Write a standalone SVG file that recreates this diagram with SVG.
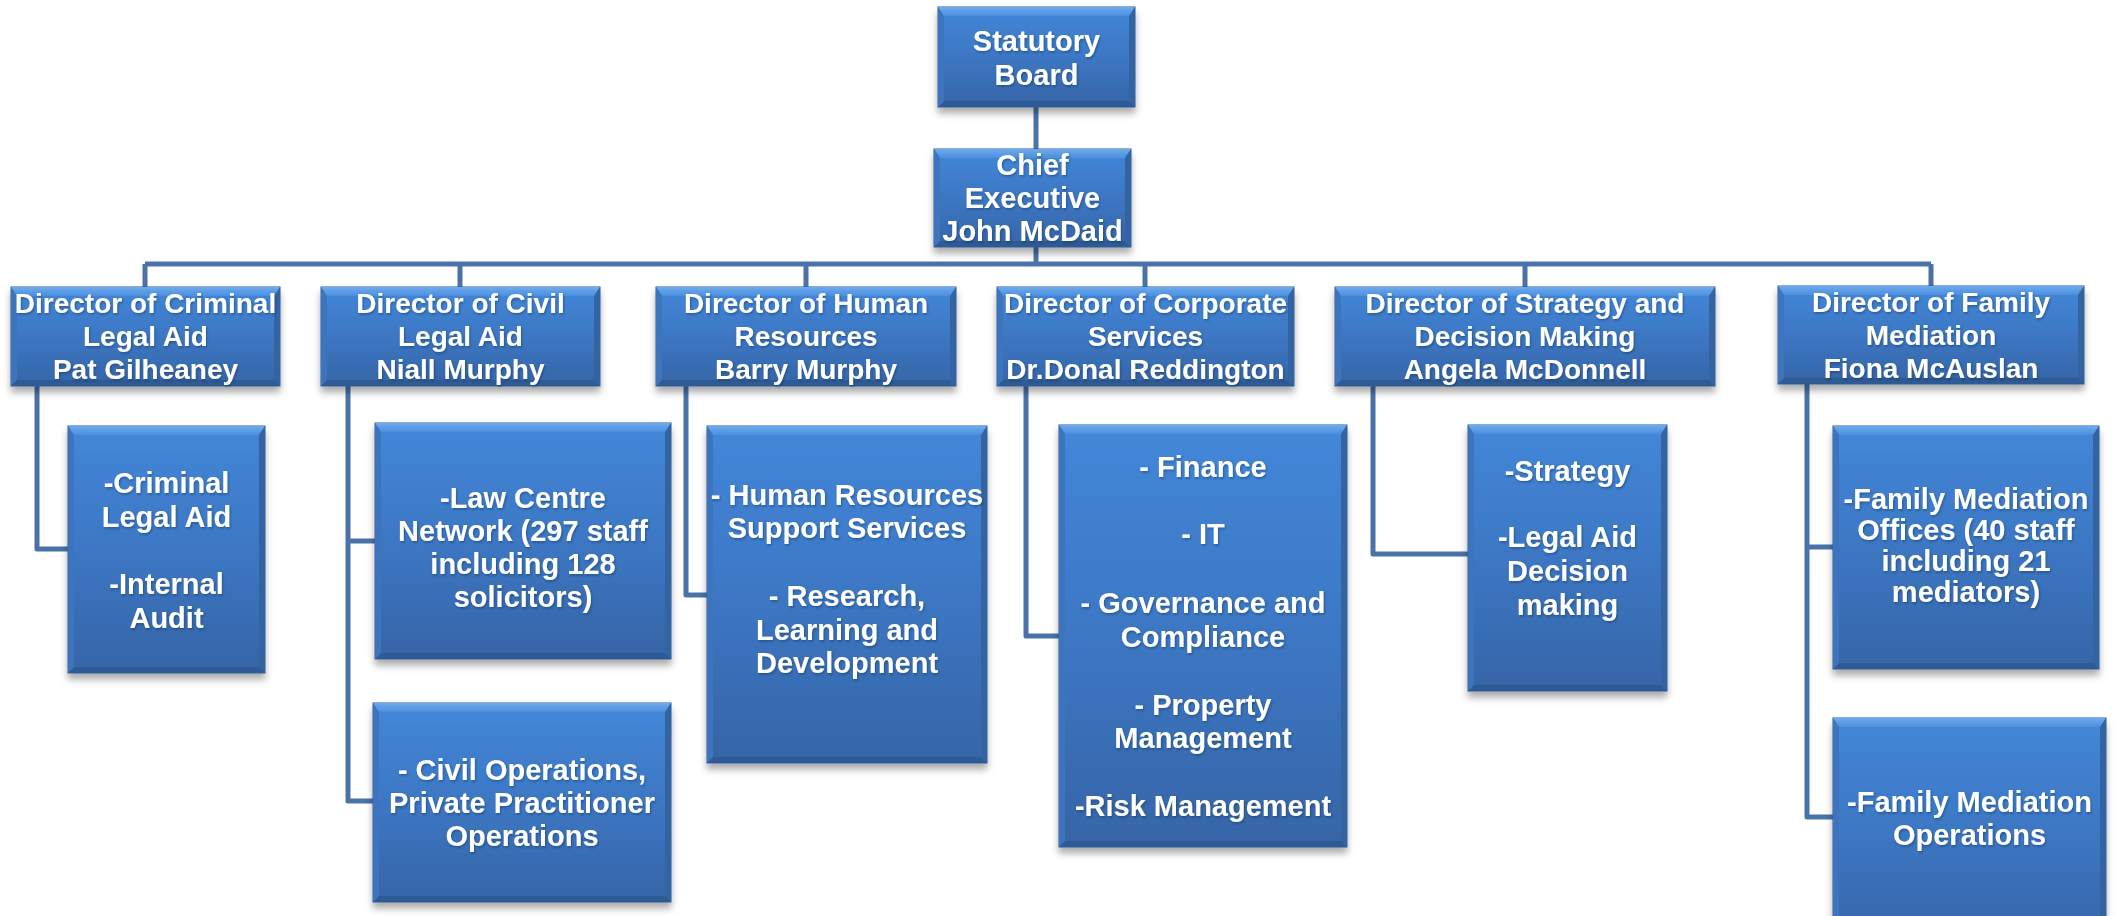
<svg xmlns="http://www.w3.org/2000/svg" width="2116" height="916" viewBox="0 0 2116 916">
<defs>
<linearGradient id="gMain" x1="0" y1="0" x2="0" y2="1">
<stop offset="0" stop-color="#4387d9"/>
<stop offset="0.5" stop-color="#3c77c3"/>
<stop offset="1" stop-color="#3665a7"/>
</linearGradient>
<linearGradient id="gTop" x1="0" y1="0" x2="0" y2="1">
<stop offset="0" stop-color="#6eaaee"/>
<stop offset="1" stop-color="#4b8fdd"/>
</linearGradient>
<filter id="sh" x="-10%" y="-10%" width="120%" height="130%">
<feDropShadow dx="0" dy="6" stdDeviation="3.5" flood-color="#000" flood-opacity="0.32"/>
</filter>
<filter id="tsh" x="-5%" y="-20%" width="110%" height="140%">
<feDropShadow dx="1" dy="1.5" stdDeviation="1" flood-color="#0a2040" flood-opacity="0.4"/>
</filter>
</defs>
<style>
.box{fill:url(#gMain);stroke:#2e5a95;stroke-width:1}
.bt{fill:url(#gTop)}
.bb{fill:#2e5a95}
.bl{fill:#3d74bd}
.br{fill:#3463a1}
.t{font-family:"Liberation Sans",Arial,Helvetica,sans-serif;font-weight:bold;font-size:29px;fill:#fff;text-anchor:middle;filter:url(#tsh)}
.d{font-size:28px}
.c{fill:none;stroke:#4a72a8;stroke-width:5;stroke-linejoin:round}
</style>
<rect width="2116" height="916" fill="#fff"/>
<g id="connectors" class="c">
<path d="M1036 107V149"/>
<path d="M1036 247V264"/>
<path d="M145 264H1931"/>
<path d="M145 264V287M460 264V287M806 264V287M1145 264V287M1525 264V287M1931 264V286"/>
<path d="M37 386V549H68"/>
<path d="M348 386V801H373M348 541H375"/>
<path d="M686 386V595H707"/>
<path d="M1026 386V636H1059"/>
<path d="M1373 386V554H1468"/>
<path d="M1807 384V817H1833M1807 547H1833"/>
</g>
<g id="statutory-board">
<g filter="url(#sh)"><rect class="box" x="938" y="7" width="197" height="100"/></g>
<polygon class="bt" points="938,7 1135,7 1129,16 944,16"/><polygon class="bb" points="938,107 1135,107 1129,101 944,101"/><polygon class="bl" points="938,7 944,16 944,101 938,107"/><polygon class="br" points="1135,7 1129,16 1129,101 1135,107"/>
<text class="t"><tspan x="1036.5" y="51">Statutory</tspan><tspan x="1036.5" y="85">Board</tspan></text>
</g>
<g id="chief-executive">
<g filter="url(#sh)"><rect class="box" x="934" y="149" width="197" height="98"/></g>
<polygon class="bt" points="934,149 1131,149 1125,158 940,158"/><polygon class="bb" points="934,247 1131,247 1125,241 940,241"/><polygon class="bl" points="934,149 940,158 940,241 934,247"/><polygon class="br" points="1131,149 1125,158 1125,241 1131,247"/>
<text class="t"><tspan x="1032.5" y="175">Chief</tspan><tspan x="1032.5" y="208">Executive</tspan><tspan x="1032.5" y="241">John McDaid</tspan></text>
</g>
<g id="dir-criminal">
<g filter="url(#sh)"><rect class="box" x="11" y="287" width="269" height="99"/></g>
<polygon class="bt" points="11,287 280,287 274,296 17,296"/><polygon class="bb" points="11,386 280,386 274,380 17,380"/><polygon class="bl" points="11,287 17,296 17,380 11,386"/><polygon class="br" points="280,287 274,296 274,380 280,386"/>
<text class="t d"><tspan x="145.5" y="313">Director of Criminal</tspan><tspan x="145.5" y="346">Legal Aid</tspan><tspan x="145.5" y="379">Pat Gilheaney</tspan></text>
</g>
<g id="dir-civil">
<g filter="url(#sh)"><rect class="box" x="321" y="287" width="279" height="99"/></g>
<polygon class="bt" points="321,287 600,287 594,296 327,296"/><polygon class="bb" points="321,386 600,386 594,380 327,380"/><polygon class="bl" points="321,287 327,296 327,380 321,386"/><polygon class="br" points="600,287 594,296 594,380 600,386"/>
<text class="t d"><tspan x="460.5" y="313">Director of Civil</tspan><tspan x="460.5" y="346">Legal Aid</tspan><tspan x="460.5" y="379">Niall Murphy</tspan></text>
</g>
<g id="dir-hr">
<g filter="url(#sh)"><rect class="box" x="656" y="287" width="300" height="99"/></g>
<polygon class="bt" points="656,287 956,287 950,296 662,296"/><polygon class="bb" points="656,386 956,386 950,380 662,380"/><polygon class="bl" points="656,287 662,296 662,380 656,386"/><polygon class="br" points="956,287 950,296 950,380 956,386"/>
<text class="t d"><tspan x="806" y="313">Director of Human</tspan><tspan x="806" y="346">Resources</tspan><tspan x="806" y="379">Barry Murphy</tspan></text>
</g>
<g id="dir-corporate">
<g filter="url(#sh)"><rect class="box" x="997" y="287" width="297" height="99"/></g>
<polygon class="bt" points="997,287 1294,287 1288,296 1003,296"/><polygon class="bb" points="997,386 1294,386 1288,380 1003,380"/><polygon class="bl" points="997,287 1003,296 1003,380 997,386"/><polygon class="br" points="1294,287 1288,296 1288,380 1294,386"/>
<text class="t d"><tspan x="1145.5" y="313">Director of Corporate</tspan><tspan x="1145.5" y="346">Services</tspan><tspan x="1145.5" y="379">Dr.Donal Reddington</tspan></text>
</g>
<g id="dir-strategy">
<g filter="url(#sh)"><rect class="box" x="1335" y="287" width="380" height="99"/></g>
<polygon class="bt" points="1335,287 1715,287 1709,296 1341,296"/><polygon class="bb" points="1335,386 1715,386 1709,380 1341,380"/><polygon class="bl" points="1335,287 1341,296 1341,380 1335,386"/><polygon class="br" points="1715,287 1709,296 1709,380 1715,386"/>
<text class="t d"><tspan x="1525" y="313">Director of Strategy and</tspan><tspan x="1525" y="346">Decision Making</tspan><tspan x="1525" y="379">Angela McDonnell</tspan></text>
</g>
<g id="dir-family">
<g filter="url(#sh)"><rect class="box" x="1778" y="286" width="306" height="98"/></g>
<polygon class="bt" points="1778,286 2084,286 2078,295 1784,295"/><polygon class="bb" points="1778,384 2084,384 2078,378 1784,378"/><polygon class="bl" points="1778,286 1784,295 1784,378 1778,384"/><polygon class="br" points="2084,286 2078,295 2078,378 2084,384"/>
<text class="t d"><tspan x="1931" y="312">Director of Family</tspan><tspan x="1931" y="345">Mediation</tspan><tspan x="1931" y="378">Fiona McAuslan</tspan></text>
</g>
<g id="unit-criminal">
<g filter="url(#sh)"><rect class="box" x="68" y="426" width="197" height="247"/></g>
<polygon class="bt" points="68,426 265,426 259,435 74,435"/><polygon class="bb" points="68,673 265,673 259,667 74,667"/><polygon class="bl" points="68,426 74,435 74,667 68,673"/><polygon class="br" points="265,426 259,435 259,667 265,673"/>
<text class="t"><tspan x="166.5" y="493">-Criminal</tspan><tspan x="166.5" y="527">Legal Aid</tspan><tspan x="166.5" y="594">-Internal</tspan><tspan x="166.5" y="628">Audit</tspan></text>
</g>
<g id="unit-law-centre">
<g filter="url(#sh)"><rect class="box" x="375" y="423" width="296" height="236"/></g>
<polygon class="bt" points="375,423 671,423 665,432 381,432"/><polygon class="bb" points="375,659 671,659 665,653 381,653"/><polygon class="bl" points="375,423 381,432 381,653 375,659"/><polygon class="br" points="671,423 665,432 665,653 671,659"/>
<text class="t"><tspan x="523" y="508">-Law Centre</tspan><tspan x="523" y="541">Network (297 staff</tspan><tspan x="523" y="574">including 128</tspan><tspan x="523" y="607">solicitors)</tspan></text>
</g>
<g id="unit-civil-ops">
<g filter="url(#sh)"><rect class="box" x="373" y="703" width="298" height="199"/></g>
<polygon class="bt" points="373,703 671,703 665,712 379,712"/><polygon class="bb" points="373,902 671,902 665,896 379,896"/><polygon class="bl" points="373,703 379,712 379,896 373,902"/><polygon class="br" points="671,703 665,712 665,896 671,902"/>
<text class="t"><tspan x="522" y="780">- Civil Operations,</tspan><tspan x="522" y="813">Private Practitioner</tspan><tspan x="522" y="846">Operations</tspan></text>
</g>
<g id="unit-hr">
<g filter="url(#sh)"><rect class="box" x="707" y="426" width="280" height="337"/></g>
<polygon class="bt" points="707,426 987,426 981,435 713,435"/><polygon class="bb" points="707,763 987,763 981,757 713,757"/><polygon class="bl" points="707,426 713,435 713,757 707,763"/><polygon class="br" points="987,426 981,435 981,757 987,763"/>
<text class="t"><tspan x="847" y="505">- Human Resources</tspan><tspan x="847" y="538">Support Services</tspan><tspan x="847" y="606">- Research,</tspan><tspan x="847" y="640">Learning and</tspan><tspan x="847" y="673">Development</tspan></text>
</g>
<g id="unit-corporate">
<g filter="url(#sh)"><rect class="box" x="1059" y="425" width="288" height="422"/></g>
<polygon class="bt" points="1059,425 1347,425 1341,434 1065,434"/><polygon class="bb" points="1059,847 1347,847 1341,841 1065,841"/><polygon class="bl" points="1059,425 1065,434 1065,841 1059,847"/><polygon class="br" points="1347,425 1341,434 1341,841 1347,847"/>
<text class="t"><tspan x="1203" y="477">- Finance</tspan><tspan x="1203" y="544">- IT</tspan><tspan x="1203" y="613">- Governance and</tspan><tspan x="1203" y="647">Compliance</tspan><tspan x="1203" y="715">- Property</tspan><tspan x="1203" y="748">Management</tspan><tspan x="1203" y="816">-Risk Management</tspan></text>
</g>
<g id="unit-strategy">
<g filter="url(#sh)"><rect class="box" x="1468" y="425" width="199" height="266"/></g>
<polygon class="bt" points="1468,425 1667,425 1661,434 1474,434"/><polygon class="bb" points="1468,691 1667,691 1661,685 1474,685"/><polygon class="bl" points="1468,425 1474,434 1474,685 1468,691"/><polygon class="br" points="1667,425 1661,434 1661,685 1667,691"/>
<text class="t"><tspan x="1567.5" y="481">-Strategy</tspan><tspan x="1567.5" y="547">-Legal Aid</tspan><tspan x="1567.5" y="581">Decision</tspan><tspan x="1567.5" y="615">making</tspan></text>
</g>
<g id="unit-family-offices">
<g filter="url(#sh)"><rect class="box" x="1833" y="426" width="266" height="243"/></g>
<polygon class="bt" points="1833,426 2099,426 2093,435 1839,435"/><polygon class="bb" points="1833,669 2099,669 2093,663 1839,663"/><polygon class="bl" points="1833,426 1839,435 1839,663 1833,669"/><polygon class="br" points="2099,426 2093,435 2093,663 2099,669"/>
<text class="t"><tspan x="1966" y="509">-Family Mediation</tspan><tspan x="1966" y="540">Offices (40 staff</tspan><tspan x="1966" y="571">including 21</tspan><tspan x="1966" y="602">mediators)</tspan></text>
</g>
<g id="unit-family-ops">
<g filter="url(#sh)"><rect class="box" x="1833" y="718" width="273" height="227"/></g>
<polygon class="bt" points="1833,718 2106,718 2100,727 1839,727"/><polygon class="bb" points="1833,945 2106,945 2100,939 1839,939"/><polygon class="bl" points="1833,718 1839,727 1839,939 1833,945"/><polygon class="br" points="2106,718 2100,727 2100,939 2106,945"/>
<text class="t"><tspan x="1969.5" y="812">-Family Mediation</tspan><tspan x="1969.5" y="845">Operations</tspan></text>
</g>
</svg>
